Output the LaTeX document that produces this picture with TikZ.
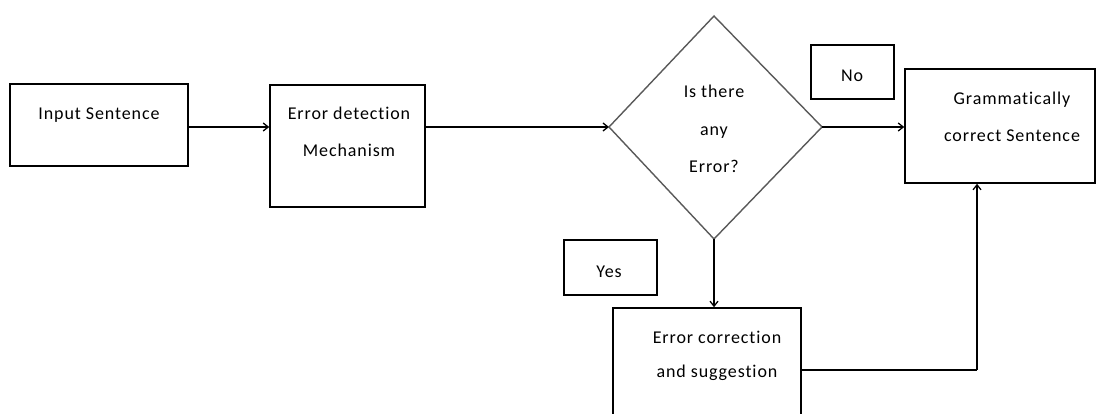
\documentclass[tikz,border=0pt]{standalone}
\usepackage{fontspec}
\setmainfont{Carlito}[Ligatures=NoCommon,LetterSpace=5]
\usetikzlibrary{arrows.meta}
\begin{document}
\begin{tikzpicture}[x=1pt,y=-1pt,
  box/.style={draw=black,line width=1.6pt,inner sep=0pt},
  lbl/.style={anchor=base,inner sep=0pt,font=\fontsize{18}{22}\selectfont},
  arr/.style={line width=1.6pt,-{Straight Barb[length=5pt,width=8pt,line width=1.3pt]}},
  link/.style={line width=1.6pt}]
\useasboundingbox (0,0) rectangle (1099,414);
\clip (0,0) rectangle (1099,414);
% boxes
\node[box,minimum width=178pt,minimum height=82pt] (input) at (99,125) {};
\node[box,minimum width=155pt,minimum height=122pt] (det) at (347.5,146) {};
\node[box,minimum width=190pt,minimum height=114pt] (gram) at (1000,126) {};
\node[box,minimum width=188pt,minimum height=124pt] (corr) at (707,370) {};
\node[box,minimum width=83pt,minimum height=54pt] (nobox) at (852.5,72) {};
\node[box,minimum width=93pt,minimum height=55pt] (yesbox) at (610.5,267.5) {};
% decision diamond
\coordinate (dT) at (714,16);
\coordinate (dL) at (609,127);
\coordinate (dR) at (822,127);
\coordinate (dB) at (714,239);
\draw[line width=1.4pt,draw=black!65] (dT) -- (dR) -- (dB) -- (dL) -- cycle;
% texts
\node[lbl] (tin) at (99,120) {Input Sentence};
\node[lbl] (tdet1) at (349,120) {Error detection};
\node[lbl] (tdet2) at (349,157) {Mechanism};
\node[lbl] (td1) at (714,98) {Is there};
\node[lbl] (td2) at (714,136) {any};
\node[lbl] (td3) at (714,172) {Error?};
\node[lbl] (tno) at (852,82) {No};
\node[lbl] (tyes) at (609,277) {Yes};
\node[lbl] (tg1) at (1012,105) {Grammatically};
\node[lbl] (tg2) at (1012,142) {correct Sentence};
\node[lbl] (tc1) at (717,343) {Error correction};
\node[lbl] (tc2) at (717,377) {and suggestion};
% connectors
\draw[arr] (input.east |- dL) -- (det.west |- dL);
\draw[arr] (det.east |- dL) -- (dL);
\draw[arr] (dR) -- (gram.west |- dR);
\draw[arr] (dB) -- (dB |- corr.north);
\coordinate (turn) at (977,370);
\draw[link] (corr.east) -- (turn);
\draw[arr] (turn) -- (turn |- gram.south);
\end{tikzpicture}
\end{document}
